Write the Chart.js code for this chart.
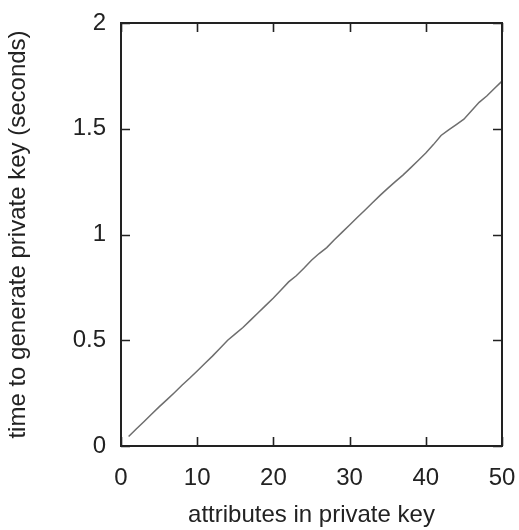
<!DOCTYPE html>
<html>
<head>
<meta charset="utf-8">
<script src="https://cdn.jsdelivr.net/npm/chart.js@4.4.1/dist/chart.umd.min.js"></script>
<style>
  html, body { margin: 0; padding: 0; background: #fff; }
  #wrap { width: 519px; height: 530px; }
</style>
</head>
<body>
<div id="wrap"><canvas id="myChart"></canvas></div>
<script>
// number of attributes in the key
const attributes = [1, 2, 3, 4, 5, 6, 7, 8, 9, 10,
    11, 12, 13, 14, 15, 16, 17, 18, 19, 20,
    21, 22, 23, 24, 25, 26, 27, 28, 29, 30,
    31, 32, 33, 34, 35, 36, 37, 38, 39, 40,
    41, 42, 43, 44, 45, 46, 47, 48, 49, 50];

// seconds to generate the key
const keygenTime = [0.045, 0.080, 0.115, 0.150, 0.185, 0.218, 0.252, 0.287, 0.320, 0.355,
    0.390, 0.425, 0.462, 0.500, 0.530, 0.560, 0.595, 0.630, 0.665, 0.700,
    0.738, 0.776, 0.805, 0.840, 0.878, 0.910, 0.938, 0.975, 1.010, 1.045,
    1.080, 1.115, 1.150, 1.185, 1.218, 1.250, 1.281, 1.315, 1.350, 1.385,
    1.425, 1.468, 1.495, 1.520, 1.545, 1.585, 1.625, 1.655, 1.690, 1.725];

const xTicks = [0, 10, 20, 30, 40, 50];
const yTicks = [0, 0.5, 1, 1.5, 2];

const FONT = "'Liberation Sans', Arial, Helvetica, sans-serif";
const INK = '#222';

// frame on all four sides with ticks pointing inwards (gnuplot look)
const frameTicks = {
    id: 'frameTicks',
    afterDraw(chart) {
        const { ctx, chartArea: a, scales } = chart;
        const len = 9;
        ctx.save();
        ctx.strokeStyle = INK;
        ctx.lineWidth = 2;
        ctx.strokeRect(a.left, a.top, a.right - a.left, a.bottom - a.top);
        ctx.lineWidth = 1.6;
        ctx.beginPath();
        xTicks.forEach(v => {
            const px = Math.round(scales.x.getPixelForValue(v)) + 0.5;
            ctx.moveTo(px, a.bottom);
            ctx.lineTo(px, a.bottom - len);
            ctx.moveTo(px, a.top);
            ctx.lineTo(px, a.top + len);
        });
        yTicks.forEach(v => {
            const py = Math.round(scales.y.getPixelForValue(v)) + 0.5;
            ctx.moveTo(a.left, py);
            ctx.lineTo(a.left + len, py);
            ctx.moveTo(a.right, py);
            ctx.lineTo(a.right - len, py);
        });
        ctx.stroke();
        ctx.restore();
    }
};

const ctx = document.getElementById('myChart');

var c = new Chart(ctx, {
    type: 'line',
    data: {
        labels: attributes,
        datasets: [{
            label: 'key generation',
            data: attributes.map((a, i) => ({ x: a, y: keygenTime[i] })),
            borderColor: '#6e6e6e',
            borderWidth: 1.5,
            pointRadius: 0,
            tension: 0,
            fill: false
        }]
    },
    options: {
        animation: false,
        responsive: true,
        maintainAspectRatio: false,
        layout: {
            padding: { left: 0, right: 17, top: 23, bottom: 0 }
        },
        plugins: {
            legend: { display: false },
            tooltip: { enabled: false }
        },
        scales: {
            x: {
                type: 'linear',
                min: 0,
                max: 50,
                afterBuildTicks: (scale) => { scale.ticks = xTicks.map(v => ({ value: v })); },
                afterFit: (scale) => {
                    scale.height = 84;
                    scale.paddingLeft = 0;
                    scale.paddingRight = 0;
                },
                grid: { display: false, drawTicks: false },
                border: { display: false },
                ticks: {
                    color: INK,
                    padding: 18,
                    maxRotation: 0,
                    font: { family: FONT, size: 24 }
                },
                title: {
                    display: true,
                    text: 'attributes in private key',
                    color: INK,
                    font: { family: FONT, size: 24 },
                    padding: { top: 0, bottom: 0 }
                }
            },
            y: {
                type: 'linear',
                min: 0,
                max: 2,
                afterBuildTicks: (scale) => { scale.ticks = yTicks.map(v => ({ value: v })); },
                afterFit: (scale) => {
                    scale.width = 121;
                    scale.paddingTop = 0;
                    scale.paddingBottom = 0;
                },
                grid: { display: false, drawTicks: false },
                border: { display: false },
                ticks: {
                    color: INK,
                    padding: 15,
                    font: { family: FONT, size: 24 },
                    callback: (v) => String(v)
                },
                title: {
                    display: true,
                    text: 'time to generate private key (seconds)',
                    color: INK,
                    font: { family: FONT, size: 24 },
                    padding: { top: 4, bottom: 0 }
                }
            }
        }
    },
    plugins: [frameTicks]
});
</script>
</body>
</html>
